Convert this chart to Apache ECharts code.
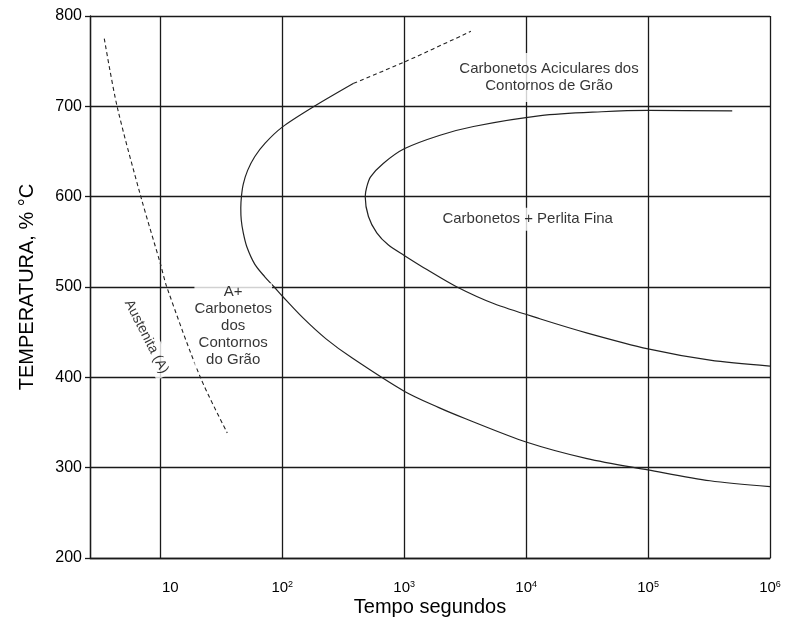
<!DOCTYPE html>
<html>
<head>
<meta charset="utf-8">
<script src="https://cdn.jsdelivr.net/npm/echarts@6/dist/echarts.min.js"></script>
<style>
  html, body { margin: 0; padding: 0; background: #ffffff; }
  #chart { width: 787px; height: 617px; }
</style>
</head>
<body>
<div id="chart"></div>
<script>
const FONT = '"Liberation Sans", Arial, Helvetica, sans-serif';

// Eixos: tempo (s, escala log) e temperatura (°C)
const tempoMin = 2.65;
const tempoMax = 1e6;
const tempMin = 200;
const tempMax = 800;
const tempIntervalo = 100;

// Linha tracejada da austenita (tempo s, temperatura °C)
const austenita = [
  [3.47, 775], [4.42, 700], [6.92, 600], [10, 526], [11.3, 500], [21.3, 400], [35.4, 338.5]
];

// Curva de início (C externa), parte contínua
const curvaExterna = [
  [385, 725.5], [183, 700], [100, 677], [72.4, 659.3], [59.4, 644.2], [52, 629.1],
  [47.9, 614], [46.3, 600.8], [45.7, 587.5], [46.1, 574.2], [47.9, 559.8], [51.2, 544.5],
  [59.6, 525], [71.9, 511.3], [85.9, 500], [100, 490], [148, 465.8], [228.6, 442.6],
  [375, 421.3], [1000, 384.6], [1905, 366.7], [3190, 354.1], [10000, 328.4],
  [31600, 310], [100000, 297.5], [322000, 285.5], [1000000, 279]
];

// Prolongamento tracejado da curva externa
const curvaExternaTracejada = [
  [385, 725.5], [1000, 749], [3524, 783]
];

// Curva de fim (C interna)
const curvaInterna = [
  [490000, 695], [100000, 695.5], [41700, 694], [13130, 689.7], [3698, 677.7],
  [1967, 668], [1000, 653], [673, 636.8], [530, 622], [493, 610.7], [479, 600],
  [509, 578.1], [596, 559.9], [743, 546.4], [1000, 535], [1535, 519.3], [2710, 500],
  [5407, 481.7], [13130, 464.6], [31800, 449], [100000, 431.5], [322000, 419],
  [1000000, 412.4]
];

// Rótulos das regiões
const regioes = [
  { pos: [15400, 732], texto: 'Carbonetos Aciculares dos\nContornos de Grão', pad: [11, 6, 4, 6], rot: 0 },
  { pos: [10300, 575], texto: 'Carbonetos + Perlita Fina', pad: [3, 4, 3, 4], rot: 0 },
  { pos: [39.6, 457], texto: 'A+\nCarbonetos\ndos\nContornos\ndo Grão', pad: [0, 0, 0, 0], rot: 0 },
  { pos: [7.68, 445], texto: 'Austenita (A)', pad: [2, 3, 2, 3], rot: -63 }
];

const chart = echarts.init(document.getElementById('chart'), null, { renderer: 'canvas' });

const corLinha = '#1a1a1a';
const corTexto = '#000000';

chart.setOption({
  backgroundColor: '#ffffff',
  animation: false,
  grid: { left: 90, right: 17, top: 16, bottom: 59, containLabel: false, outerBoundsMode: 'none' },
  xAxis: {
    type: 'log',
    logBase: 10,
    min: tempoMin,
    max: tempoMax,
    name: 'Tempo segundos',
    nameLocation: 'middle',
    nameGap: 39,
    nameMoveOverlap: false,
    nameTextStyle: { fontFamily: FONT, fontSize: 20, color: corTexto },
    axisLine: { show: true, lineStyle: { color: corLinha, width: 1.3 } },
    axisTick: { show: false },
    splitLine: { show: true, lineStyle: { color: corLinha, width: 1.3 } },
    axisLabel: {
      margin: 22,
      color: corTexto,
      fontFamily: FONT,
      formatter: function (v) {
        const e = Math.log10(v);
        const n = Math.round(e);
        if (Math.abs(e - n) > 0.01 || n < 1) return '';
        if (n === 1) return '{p|10}';
        return '{b|10}{s|' + n + '}';
      },
      rich: {
        p: { fontFamily: FONT, fontSize: 15, color: corTexto, padding: [0, 0, 0, 20] },
        b: { fontFamily: FONT, fontSize: 15, color: corTexto },
        s: { fontFamily: FONT, fontSize: 9, color: corTexto, verticalAlign: 'top' }
      }
    }
  },
  yAxis: {
    type: 'value',
    min: tempMin,
    max: tempMax,
    interval: tempIntervalo,
    name: 'TEMPERATURA, % °C',
    nameLocation: 'middle',
    nameGap: 53,
    nameMoveOverlap: false,
    nameTextStyle: { fontFamily: FONT, fontSize: 20, color: corTexto },
    axisLine: { show: true, lineStyle: { color: corLinha, width: 1.3 } },
    axisTick: { show: true, inside: false, length: 5, lineStyle: { color: corLinha, width: 1.3 } },
    splitLine: { show: true, lineStyle: { color: corLinha, width: 1.3 } },
    axisLabel: { margin: 8, color: corTexto, fontFamily: FONT, fontSize: 16 }
  },
  series: [
    {
      name: 'Austenita',
      type: 'line',
      data: austenita,
      smooth: 0.3,
      symbol: 'none',
      lineStyle: { color: '#222', width: 1.1, type: [4, 3] },
      z: 3
    },
    {
      name: 'Curva externa',
      type: 'line',
      data: curvaExterna,
      smooth: 0.3,
      symbol: 'none',
      lineStyle: { color: '#222', width: 1.2 },
      z: 3
    },
    {
      name: 'Curva externa (tracejada)',
      type: 'line',
      data: curvaExternaTracejada,
      smooth: 0.3,
      symbol: 'none',
      lineStyle: { color: '#222', width: 1.1, type: [4, 3] },
      z: 3
    },
    {
      name: 'Curva interna',
      type: 'line',
      data: curvaInterna,
      smooth: 0.3,
      symbol: 'none',
      lineStyle: { color: '#222', width: 1.2 },
      z: 3
    },
    {
      name: 'Regiões',
      type: 'scatter',
      symbolSize: 0,
      silent: true,
      z: 5,
      data: regioes.map(function (r) {
        return {
          value: r.pos,
          label: {
            show: true,
            position: 'inside',
            formatter: r.texto,
            rotate: r.rot,
            fontFamily: FONT,
            fontSize: r.rot ? 14 : 15,
            lineHeight: 17,
            color: corTexto,
            align: 'center',
            verticalAlign: 'middle',
            backgroundColor: '#ffffff',
            padding: r.pad
          }
        };
      })
    }
  ]
});
</script>
</body>
</html>
